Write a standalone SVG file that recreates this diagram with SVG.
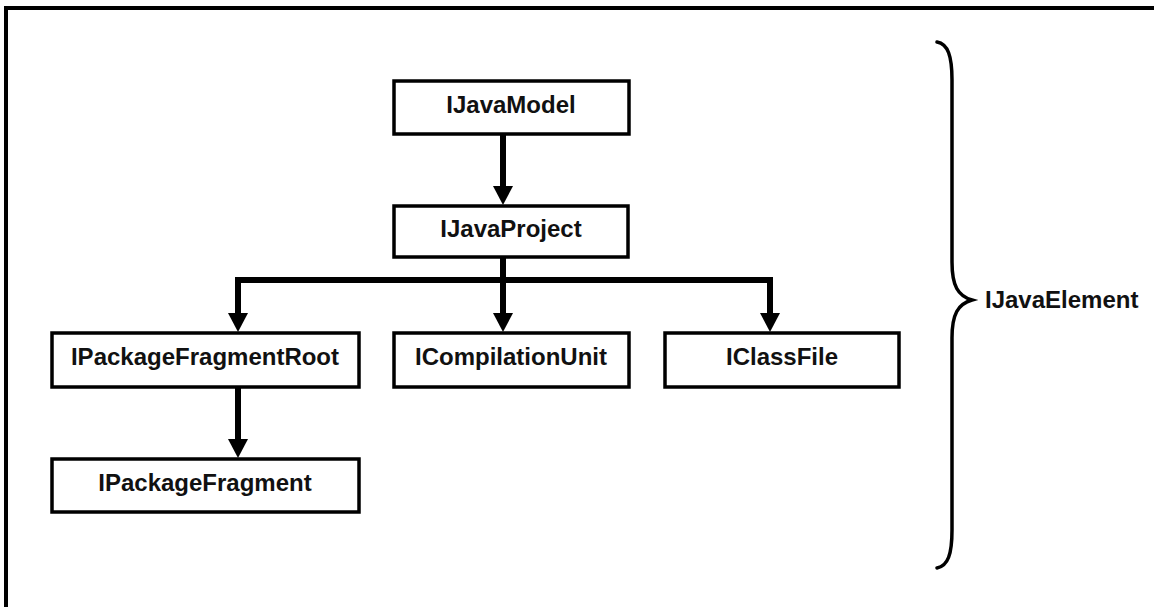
<svg xmlns="http://www.w3.org/2000/svg" width="1154" height="607" viewBox="0 0 1154 607">
  <style>
    .box rect { fill: #ffffff; stroke: #000000; stroke-width: 3.5; }
    .box text { font-family: "Liberation Sans", Arial, sans-serif; font-weight: bold; font-size: 24px; fill: #111111; text-anchor: middle; }
    .wire { fill: none; stroke: #000000; stroke-width: 6; }
    .frame { fill: none; stroke: #000000; stroke-width: 4; }
    .brace { fill: none; stroke: #000000; stroke-width: 3.5; stroke-linecap: round; }
    .label { font-family: "Liberation Sans", Arial, sans-serif; font-weight: bold; font-size: 24px; fill: #111111; }
  </style>
  <defs>
    <marker id="head" viewBox="0 0 20 19" refX="10" refY="19" markerWidth="20" markerHeight="19" markerUnits="userSpaceOnUse" orient="auto-start-reverse">
      <polygon points="0,0 20,0 10,19" fill="#000000"/>
    </marker>
  </defs>

  <rect width="1154" height="607" fill="#ffffff"/>

  <!-- outer frame: top and left edges -->
  <path class="frame" d="M6,607 V8 H1154"/>

  <!-- connectors -->
  <g id="connectors">
    <path class="wire" d="M503,135 V187" />
    <polygon points="493,186 513,186 503,205" fill="#000"/>
    <path class="wire" d="M503,258 V314" />
    <polygon points="493,313 513,313 503,332" fill="#000"/>
    <path class="wire" d="M238,314 V280 H770 V314" />
    <polygon points="228,313 248,313 238,332" fill="#000"/>
    <polygon points="760,313 780,313 770,332" fill="#000"/>
    <path class="wire" d="M238,388 V440" />
    <polygon points="228,439 248,439 238,458" fill="#000"/>
  </g>

  <!-- nodes -->
  <g id="n-javamodel" class="box">
    <rect x="394" y="81" width="235" height="53"/>
    <text x="511" y="113">IJavaModel</text>
  </g>
  <g id="n-javaproject" class="box">
    <rect x="394" y="206" width="234" height="51"/>
    <text x="511" y="237">IJavaProject</text>
  </g>
  <g id="n-pfroot" class="box">
    <rect x="52" y="333" width="307" height="54"/>
    <text x="205" y="365">IPackageFragmentRoot</text>
  </g>
  <g id="n-cu" class="box">
    <rect x="394" y="333" width="235" height="54"/>
    <text x="511" y="365">ICompilationUnit</text>
  </g>
  <g id="n-classfile" class="box">
    <rect x="665" y="333" width="234" height="54"/>
    <text x="782" y="365">IClassFile</text>
  </g>
  <g id="n-pf" class="box">
    <rect x="52" y="459" width="307" height="53"/>
    <text x="205" y="491">IPackageFragment</text>
  </g>

  <!-- brace grouping every element type -->
  <g id="n-javaelement">
    <path class="brace" d="M937,42 C948,44 952,56 952,80 V262 C952,286 958,296 972,300 C958,304 952,314 952,338 V530 C952,554 948,566 937,568"/>
    <text class="label" x="985" y="308">IJavaElement</text>
  </g>
</svg>
